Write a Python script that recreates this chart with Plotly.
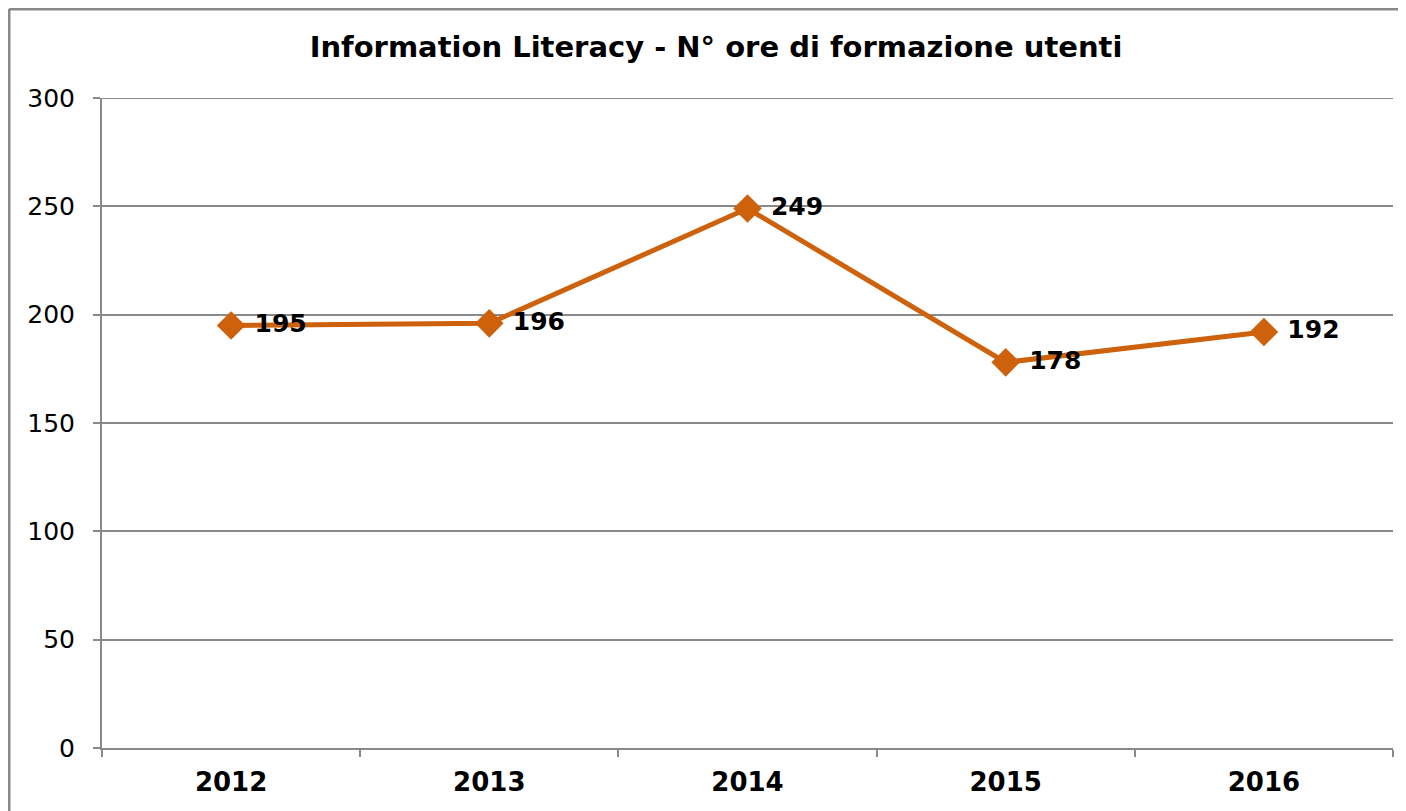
import plotly.graph_objects as go

years = ["2012", "2013", "2014", "2015", "2016"]
hours = [195, 196, 249, 178, 192]

line_color = "#CE610C"
grid_color = "#898989"

fig = go.Figure()
fig.add_trace(go.Scatter(
    x=years, y=hours, mode="lines+markers+text",
    line=dict(color=line_color, width=5),
    marker=dict(symbol="diamond", size=22, color=line_color),
    text=[" " + str(v) for v in hours], textposition="middle right",
    textfont=dict(family="DejaVu Sans", size=25, color="black", weight="bold"),
    cliponaxis=False, showlegend=False,
))

# the page adds an 8px body margin, so the figure is 8px smaller than the window
fig.update_layout(
    width=1398, height=803,
    margin=dict(l=94, r=13, t=90, b=63),
    plot_bgcolor="white", paper_bgcolor="white",
    font=dict(family="DejaVu Sans", size=25, color="black"),
    title=dict(text="<b>Information Literacy - N° ore di formazione utenti</b>",
               x=(716 - 8) / 1398, xref="container", xanchor="center",
               y=1 - 39 / 803, yref="container", yanchor="middle",
               font=dict(family="DejaVu Sans", size=29, color="black")),
    xaxis=dict(type="category", range=[-0.5, 4.5], showline=True, linecolor=grid_color,
               linewidth=2, ticks="outside", tickson="boundaries", ticklen=7,
               tickcolor=grid_color, tickwidth=2, showgrid=False, ticklabelstandoff=10,
               tickfont=dict(family="DejaVu Sans", size=26, color="black", weight="bold")),
    yaxis=dict(range=[0, 300], dtick=50, showline=True, linecolor=grid_color, linewidth=2,
               ticks="outside", ticklen=7, tickcolor=grid_color, tickwidth=2,
               gridcolor=grid_color, gridwidth=2, zeroline=False, ticklabelstandoff=13,
               tickfont=dict(family="DejaVu Sans", size=25, color="black")),
)

# top gridline at the end of the range
fig.add_shape(type="line", xref="paper", yref="y", x0=0, x1=1, y0=300, y1=300,
              line=dict(color=grid_color, width=2), layer="below")

# outer chart border, only left and top are inside the crop
border_x = -93 / 1291
border_y = 1 + 89 / 650
fig.add_shape(type="line", xref="paper", yref="paper",
              x0=border_x, x1=border_x, y0=-0.2, y1=border_y,
              line=dict(color=grid_color, width=3), layer="below")
fig.add_shape(type="line", xref="paper", yref="paper",
              x0=border_x, x1=1.1, y0=border_y, y1=border_y,
              line=dict(color=grid_color, width=3), layer="below")

fig.write_html("out.html")
